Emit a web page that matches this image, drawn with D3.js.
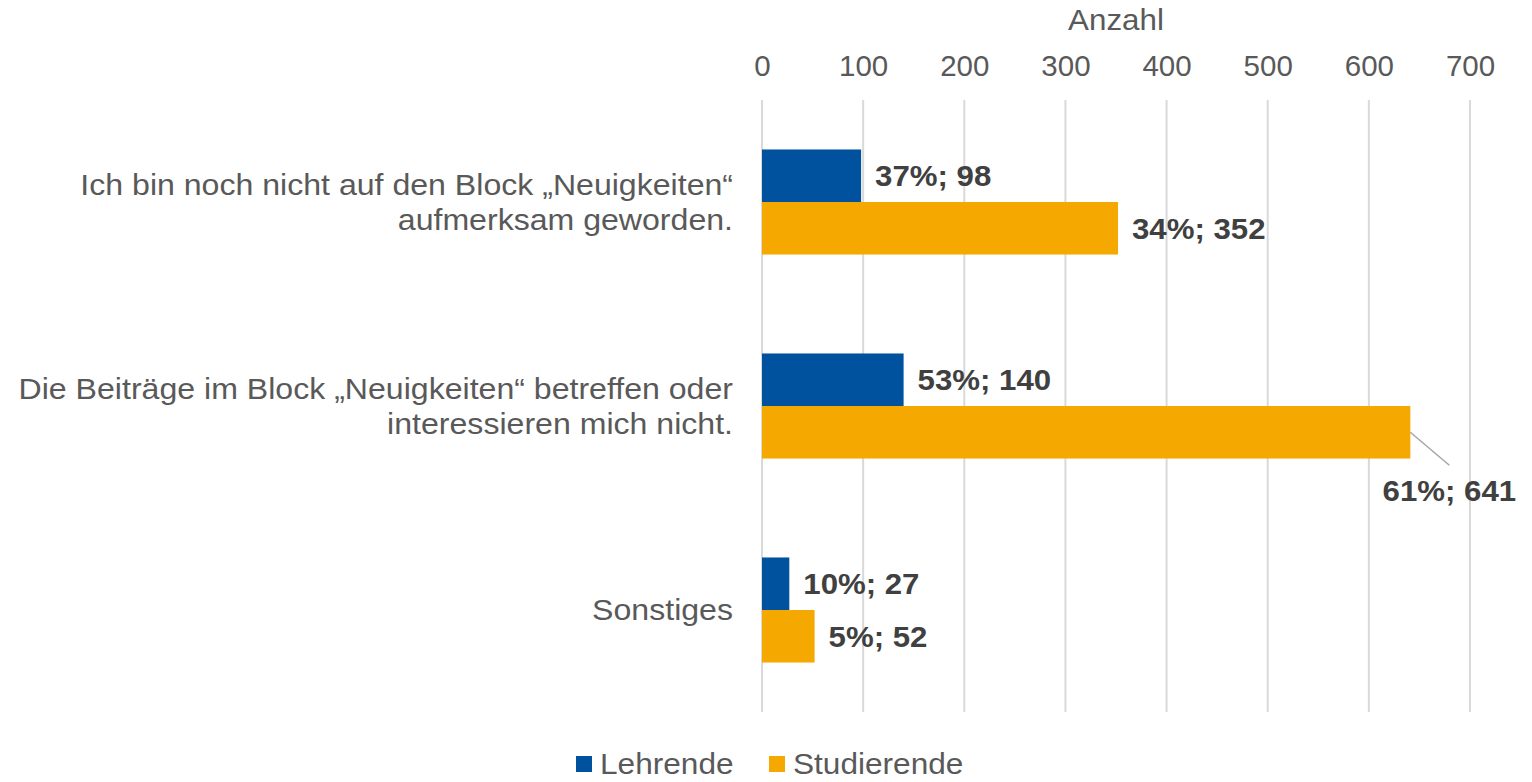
<!DOCTYPE html>
<html><head><meta charset="utf-8">
<script src="https://cdn.jsdelivr.net/npm/d3@7"></script>
<style>body{margin:0;background:#fff}svg{display:block}text{font-family:"Liberation Sans",Arial,sans-serif}</style>
</head><body><svg id="c" width="1532" height="782"></svg>
<script>
const categories = [
  ["Ich bin noch nicht auf den Block „Neuigkeiten“", "aufmerksam geworden."],
  ["Die Beiträge im Block „Neuigkeiten“ betreffen oder", "interessieren mich nicht."],
  ["Sonstiges"]
];
const seriesNames = ["Lehrende", "Studierende"];
const lehrende = [98, 140, 27];
const lehrendePct = ["37%", "53%", "10%"];
const studierende = [352, 641, 52];
const studierendePct = ["34%", "61%", "5%"];
const tickValues = [0, 100, 200, 300, 400, 500, 600, 700];
const colors = ["#00529F", "#F5A800"];

(function () {
const svg = d3.select("#c");
const pLeft = 762, pRight = 1470, pTop = 100, pBottom = 712;
const x = d3.scaleLinear().domain([0, 700]).range([pLeft, pRight]);
const y = d3.scaleBand().domain(d3.range(categories.length)).range([pTop, pBottom]).paddingInner(0.485).paddingOuter(0.2425);
const y1 = d3.scaleBand().domain([0, 1]).range([0, y.bandwidth()]);

function stretch(sel, ax, ay, sx) {
  sel.attr("transform", `translate(${ax},${ay}) scale(${sx},1) translate(${-ax},${-ay})`);
  return sel;
}

svg.append("g").selectAll("line").data(tickValues).join("line")
  .attr("x1", d => x(d)).attr("x2", d => x(d)).attr("y1", pTop).attr("y2", pBottom)
  .attr("stroke", "#d9d9d9").attr("stroke-width", 2);

const ax = svg.append("g").attr("transform", `translate(0,${pTop})`)
  .call(d3.axisTop(x).tickValues(tickValues).tickSize(0).tickPadding(24));
ax.select(".domain").remove();
ax.selectAll("text").attr("font-size", 29.5).attr("fill", "#595959").attr("font-family", "Liberation Sans, Arial, sans-serif");

const axT = svg.append("text").attr("x", (pLeft + pRight) / 2).attr("y", 30).attr("text-anchor", "middle")
  .attr("font-size", 30).attr("fill", "#595959").text("Anzahl");
stretch(axT, (pLeft + pRight) / 2, 30, 1.045);

categories.forEach((lines, i) => {
  const cy = y(i) + y.bandwidth() / 2;
  const lh = 35;
  const t = svg.append("text").attr("text-anchor", "end").attr("font-size", 30).attr("fill", "#595959");
  lines.forEach((ln, j) => {
    t.append("tspan").attr("x", 733).attr("y", cy + (j - (lines.length - 1) / 2) * lh).attr("dy", "0.35em").text(ln);
  });
  stretch(t, 733, cy, 1.07);
});

const series = [
  {vals: lehrende, pct: lehrendePct},
  {vals: studierende, pct: studierendePct}
];
series.forEach((s, k) => {
  const g = svg.append("g");
  g.selectAll("rect").data(s.vals).join("rect")
    .attr("x", x(0)).attr("y", (d, i) => y(i) + y1(k))
    .attr("width", d => x(d) - x(0)).attr("height", y1.bandwidth())
    .attr("fill", colors[k]);
  s.vals.forEach((v, i) => {
    const by = y(i) + y1(k) + y1.bandwidth() / 2;
    const label = s.pct[i] + "; " + v;
    if (k === 1 && i === 1) {
      const lx = x(v) + 39, ly = by + 58;
      svg.append("line").attr("x1", x(v)).attr("y1", by).attr("x2", lx).attr("y2", by + 33)
        .attr("stroke", "#a6a6a6").attr("stroke-width", 1.5);
      const t = svg.append("text").attr("x", lx).attr("y", ly).attr("dy", "0.35em").attr("text-anchor", "middle")
        .attr("font-size", 30).attr("font-weight", "bold").attr("fill", "#404040").text(label);
      stretch(t, lx, ly, 1.04);
    } else {
      const tx = x(v) + 14;
      const t = svg.append("text").attr("x", tx).attr("y", by).attr("dy", "0.35em")
        .attr("font-size", 30).attr("font-weight", "bold").attr("fill", "#404040").text(label);
      stretch(t, tx, by, 1.04);
    }
  });
});

const leg = svg.append("g");
const legX = [576, 769];
const legY = 764;
seriesNames.forEach((n, k) => {
  leg.append("rect").attr("x", legX[k]).attr("y", legY - 8).attr("width", 16).attr("height", 16).attr("fill", colors[k]);
  const t = leg.append("text").attr("x", legX[k] + 24).attr("y", legY).attr("dy", "0.35em")
    .attr("font-size", 29).attr("fill", "#595959").text(n);
  stretch(t, legX[k] + 24, legY, 1.09);
});
})();
</script></body></html>
